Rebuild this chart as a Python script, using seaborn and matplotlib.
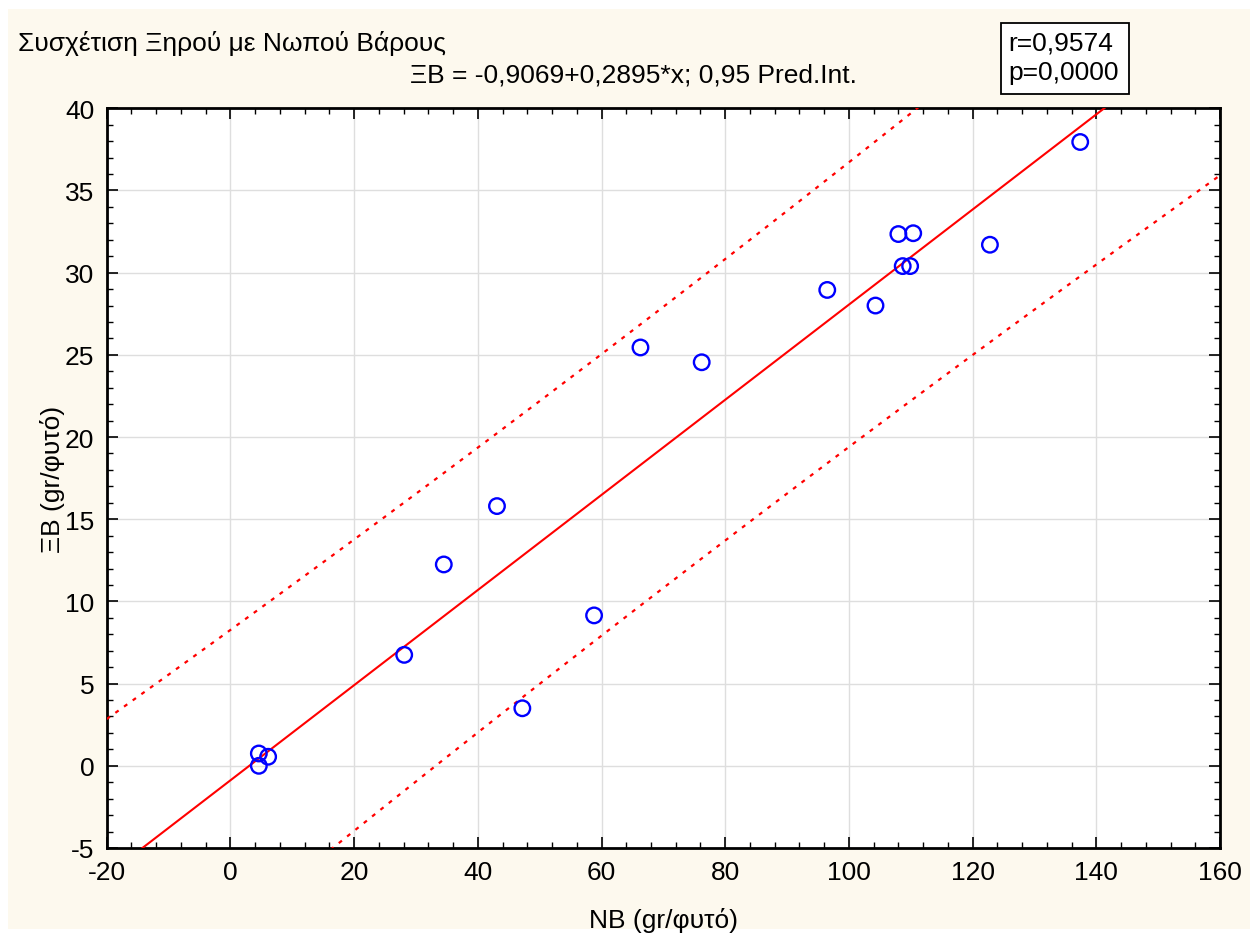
import numpy as np
import pandas as pd
import matplotlib
matplotlib.use("Agg")
import matplotlib.pyplot as plt
from matplotlib.patches import Rectangle
from matplotlib.ticker import MultipleLocator
import seaborn as sns

# ---- data ----
nb = [4.6, 4.6, 6.1, 28.1, 34.5, 43.1, 47.2, 58.8, 66.3, 76.2,
      96.5, 104.3, 108.0, 110.4, 108.7, 109.9, 122.8, 137.4]
xb = [0.75, 0.0, 0.55, 6.75, 12.25, 15.8, 3.5, 9.15, 25.45, 24.55,
      28.95, 28.0, 32.35, 32.4, 30.4, 30.4, 31.7, 37.95]

title = "Συσχέτιση Ξηρού με Νωπού Βάρους"
eq_text = "ΞΒ = -0,9069+0,2895*x; 0,95 Pred.Int."
stat_text = ["r=0,9574", "p=0,0000"]
xlabel = "NB (gr/φυτό)"
ylabel = "ΞΒ (gr/φυτό)"
xticks = [-20, 0, 20, 40, 60, 80, 100, 120, 140, 160]
yticks = [-5, 0, 5, 10, 15, 20, 25, 30, 35, 40]
T_975_16 = 2.1199  # Student t, 0.975 quantile, 16 df

df = pd.DataFrame({"NB": nb, "XB": xb})

# regression & prediction interval from the data
x = np.asarray(nb, float)
y = np.asarray(xb, float)
n = len(x)
b1, b0 = np.polyfit(x, y, 1)
resid = y - (b0 + b1 * x)
s = np.sqrt(np.sum(resid ** 2) / (n - 2))
sxx = np.sum((x - x.mean()) ** 2)
xg = np.linspace(xticks[0], xticks[-1], 400)
yfit = b0 + b1 * xg
half = T_975_16 * s * np.sqrt(1 + 1 / n + (xg - x.mean()) ** 2 / sxx)
lines = pd.DataFrame({"x": xg, "fit": yfit, "lo": yfit - half, "hi": yfit + half})

sns.set_theme(style="white")
plt.rcParams["font.family"] = ["Liberation Sans", "DejaVu Sans"]
plt.rcParams["axes.unicode_minus"] = False
plt.rcParams["text.color"] = "black"
plt.rcParams["axes.labelcolor"] = "black"
plt.rcParams["xtick.color"] = "black"
plt.rcParams["ytick.color"] = "black"

FS = 19
W, H = 1250, 937
fig = plt.figure(figsize=(W / 100, H / 100), dpi=100)
fig.patch.set_facecolor("white")
fig.patches.append(Rectangle((8 / W, 1 - 930 / H), 1 - 8 / W, (930 - 10) / H,
                             transform=fig.transFigure, facecolor="#fdf9ee",
                             edgecolor="none", zorder=-10))

ax = fig.add_axes([106.7 / W, 1 - 849 / H, (1220 - 106.7) / W, (849 - 109.3) / H])
ax.set_facecolor("white")

sns.lineplot(data=lines, x="x", y="fit", ax=ax, color="red", lw=1.5, zorder=3)
sns.lineplot(data=lines, x="x", y="hi", ax=ax, color="red", lw=1.6,
             linestyle=(0, (1.8, 3)), zorder=3)
sns.lineplot(data=lines, x="x", y="lo", ax=ax, color="red", lw=1.6,
             linestyle=(0, (1.8, 3)), zorder=3)
sns.scatterplot(data=df, x="NB", y="XB", ax=ax, marker="o", s=125,
                facecolor="none", edgecolor="blue", linewidth=1.7, zorder=4)

ax.set_xlim(xticks[0], xticks[-1])
ax.set_ylim(yticks[0], yticks[-1])
ax.set_xticks(xticks)
ax.set_yticks(yticks)
ax.xaxis.set_minor_locator(MultipleLocator(4))
ax.yaxis.set_minor_locator(MultipleLocator(1))
ax.tick_params(which="both", direction="in", top=True, right=True,
               bottom=True, left=True, color="black")
ax.tick_params(which="major", length=8, width=1.2, labelsize=FS, pad=9)
ax.tick_params(which="minor", length=4, width=1.0)
ax.grid(True, which="major", color="#dedede", lw=1)
ax.set_axisbelow(True)
for sp in ax.spines.values():
    sp.set_visible(True)
    sp.set_color("black")
    sp.set_linewidth(2)

ax.set_xlabel(xlabel, fontsize=FS, labelpad=16)
ax.set_ylabel(ylabel, fontsize=FS, labelpad=0)

fig.text(18 / W, 1 - 43 / H, title, fontsize=FS, ha="left", va="center")
fig.text(633 / W, 1 - 76 / H, eq_text, fontsize=FS, ha="center", va="center")
fig.patches.append(Rectangle((1001 / W, 1 - 95 / H), 128 / W, 71 / H,
                             transform=fig.transFigure, facecolor="white",
                             edgecolor="black", lw=1.3))
fig.text(1008 / W, 1 - 44 / H, stat_text[0], fontsize=FS, ha="left", va="center")
fig.text(1008 / W, 1 - 73 / H, stat_text[1], fontsize=FS, ha="left", va="center")

fig.savefig("out.png", dpi=100)
